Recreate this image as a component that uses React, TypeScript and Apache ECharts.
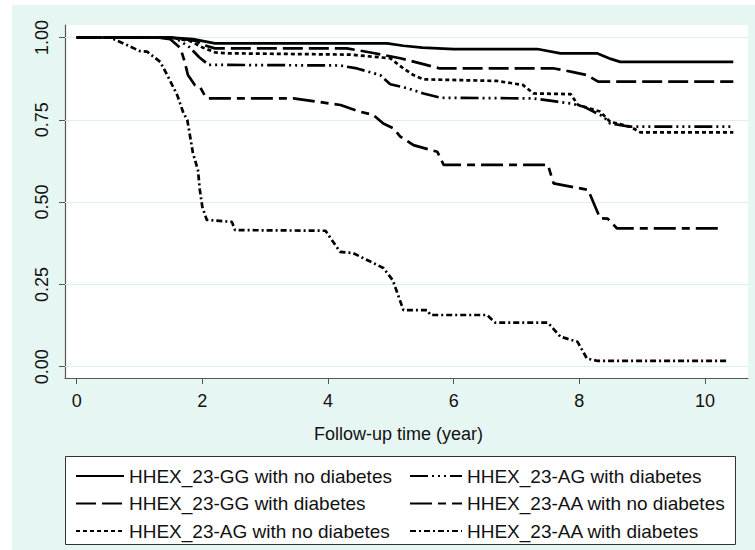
import React, { useEffect, useRef } from "react";
import * as echarts from "echarts";

// Kaplan-Meier style survival estimates: [time (year), survival]
const ggNoDiabetes: [number, number][] = [
  [0, 1], [1.5, 1], [1.85, 0.995], [2.2, 0.982], [4.94, 0.982], [5.2, 0.975], [5.5, 0.969],
  [6.0, 0.965], [7.33, 0.965], [7.7, 0.952], [8.28, 0.952], [8.5, 0.935], [8.65, 0.926], [10.45, 0.926],
];
const ggDiabetes: [number, number][] = [
  [0, 1], [1.5, 1], [1.9, 0.99], [2.0, 0.978], [2.2, 0.967], [4.3, 0.967], [4.72, 0.953],
  [5.15, 0.937], [5.5, 0.92], [5.78, 0.906], [7.6, 0.906], [7.9, 0.895], [8.12, 0.886],
  [8.3, 0.866], [10.45, 0.866],
];
const agNoDiabetes: [number, number][] = [
  [0, 1], [1.5, 1], [1.8, 0.99], [2.0, 0.97], [2.2, 0.955], [2.4, 0.952], [4.35, 0.948],
  [4.99, 0.937], [5.2, 0.906], [5.36, 0.886], [5.52, 0.873], [6.69, 0.868], [7.1, 0.856],
  [7.27, 0.83], [7.86, 0.828], [7.98, 0.795], [8.33, 0.775], [8.49, 0.744], [8.81, 0.729],
  [8.97, 0.712], [10.45, 0.712],
];
const agDiabetes: [number, number][] = [
  [0, 1], [1.5, 1], [1.6, 0.995], [1.8, 0.97], [1.95, 0.94], [2.1, 0.917], [4.19, 0.915],
  [4.46, 0.906], [4.83, 0.886], [4.99, 0.858], [5.26, 0.846], [5.52, 0.83], [5.79, 0.817],
  [7.27, 0.815], [7.65, 0.805], [7.86, 0.8], [8.07, 0.79], [8.38, 0.76], [8.49, 0.739],
  [8.81, 0.729], [10.45, 0.729],
];
const aaNoDiabetes: [number, number][] = [
  [0, 1], [1.3, 1], [1.49, 0.995], [1.65, 0.968], [1.72, 0.926], [1.77, 0.886], [1.88, 0.856],
  [1.96, 0.851], [2.05, 0.82], [2.1, 0.815], [3.45, 0.815], [3.83, 0.805], [4.2, 0.795],
  [4.5, 0.775], [4.72, 0.765], [4.88, 0.739], [5.04, 0.724], [5.15, 0.699], [5.36, 0.673],
  [5.74, 0.653], [5.84, 0.613], [7.5, 0.613], [7.59, 0.557], [8.14, 0.537], [8.33, 0.451],
  [8.45, 0.45], [8.6, 0.42], [10.27, 0.42],
];
const aaDiabetes: [number, number][] = [
  [0, 1], [0.53, 1], [0.8, 0.977], [1.0, 0.959], [1.12, 0.957], [1.33, 0.926], [1.44, 0.886],
  [1.6, 0.825], [1.7, 0.77], [1.76, 0.75], [1.85, 0.649], [1.93, 0.597], [1.96, 0.537],
  [2.0, 0.485], [2.07, 0.446], [2.47, 0.44], [2.52, 0.415], [3.96, 0.413], [4.19, 0.349],
  [4.4, 0.345], [4.88, 0.3], [5.03, 0.263], [5.2, 0.172], [5.58, 0.172], [5.63, 0.157],
  [6.53, 0.157], [6.66, 0.134], [7.5, 0.134], [7.7, 0.091], [7.97, 0.076], [8.12, 0.025],
  [8.28, 0.018], [10.37, 0.018],
];

const seriesNames = [
  "HHEX_23-GG with no diabetes",
  "HHEX_23-GG with diabetes",
  "HHEX_23-AG with no diabetes",
  "HHEX_23-AG with diabetes",
  "HHEX_23-AA with no diabetes",
  "HHEX_23-AA with diabetes",
];
const seriesData = [ggNoDiabetes, ggDiabetes, agNoDiabetes, agDiabetes, aaNoDiabetes, aaDiabetes];
const dashTypes: any[] = [
  "solid",
  [20, 6],
  [4, 3],
  [18, 4, 2, 4, 2, 4, 2, 4],
  [22, 6, 8, 6],
  [6, 3, 2, 3],
];

const xTicks = [0, 2, 4, 6, 8, 10];
const yTicks = [0, 0.25, 0.5, 0.75, 1];
const xTitle = "Follow-up time (year)";

const FONT = "'Liberation Sans', Arial, sans-serif";

export default function App() {
  const ref = useRef<HTMLDivElement>(null);
  useEffect(() => {
    if (!ref.current) return;
    const chart = echarts.init(ref.current, undefined, { renderer: "svg" });
    const series: any[] = seriesNames.map((name, i) => ({
      name,
      type: "line",
      data: seriesData[i],
      symbol: "none",
      showSymbol: false,
      smooth: false,
      z: 3,
      lineStyle: { color: "#000", width: 2.7, type: dashTypes[i], cap: "butt" },
      itemStyle: { color: "#000" },
      ...(i === 0
        ? {
            markLine: {
              silent: true,
              symbol: "none",
              z: 1,
              label: { show: false },
              lineStyle: { color: "#d9f1ea", width: 1.2, type: "solid" },
              data: yTicks.map((v) => ({ yAxis: v })),
            },
          }
        : {}),
    }));
    const legendCommon = {
      orient: "vertical",
      top: 466,
      height: 80,
      padding: 0,
      itemHeight: 14,
      itemGap: 7.5,
      itemStyle: { color: "rgba(0,0,0,0)", borderColor: "rgba(0,0,0,0)", borderWidth: 0 },
      textStyle: { fontSize: 19, fontFamily: FONT, color: "#111", lineHeight: 20 },
      selectedMode: false,
    };
    chart.setOption({
      animation: false,
      backgroundColor: "transparent",
      textStyle: { fontFamily: FONT },
      grid: {
        left: 65,
        right: 7,
        top: 25,
        bottom: 172,
        show: true,
        backgroundColor: "#ffffff",
        borderWidth: 0,
      },
      graphic: [
        {
          type: "rect",
          z: 0,
          shape: { x: 65.5, y: 456.5, width: 670, height: 88 },
          style: { fill: "#ffffff", stroke: "#333", lineWidth: 1 },
        },
      ],
      legend: [
        { ...legendCommon, data: seriesNames.slice(0, 3), left: 75, itemWidth: 48 },
        { ...legendCommon, data: seriesNames.slice(3, 6), left: 409, itemWidth: 52 },
      ],
      xAxis: {
        type: "value",
        min: -0.186,
        max: 10.684,
        name: xTitle,
        nameLocation: "middle",
        nameGap: 47,
        nameTextStyle: { fontSize: 18, color: "#111", fontFamily: FONT, padding: [0, 16, 0, 0] },
        axisLine: { show: true, onZero: false, lineStyle: { color: "#555", width: 1.2 } },
        axisTick: { show: true, length: 6, customValues: xTicks, lineStyle: { color: "#555" } },
        axisLabel: {
          customValues: xTicks,
          fontSize: 18,
          color: "#111",
          margin: 14,
          fontFamily: FONT,
          formatter: (v: number) => String(v),
        },
        splitLine: { show: false },
      },
      yAxis: {
        type: "value",
        min: -0.0343,
        max: 1.038,
        axisLine: { show: true, onZero: false, lineStyle: { color: "#555", width: 1.2 } },
        axisTick: { show: true, length: 6, customValues: yTicks, lineStyle: { color: "#555" } },
        axisLabel: {
          customValues: yTicks,
          rotate: 90,
          fontSize: 18,
          color: "#111",
          margin: 14,
          fontFamily: FONT,
          formatter: (v: number) => v.toFixed(2),
        },
        splitLine: { show: false },
      },
      series,
    });
    return () => chart.dispose();
  }, []);
  return (
    <div style={{ position: "fixed", left: 0, top: 0, width: 755, height: 550, background: "#ffffff" }}>
      <div style={{ position: "absolute", left: 12, top: 5, right: 0, bottom: 0, background: "#e6f6f2" }} />
      <div ref={ref} style={{ position: "absolute", left: 0, top: 0, width: 755, height: 550 }} />
    </div>
  );
}
